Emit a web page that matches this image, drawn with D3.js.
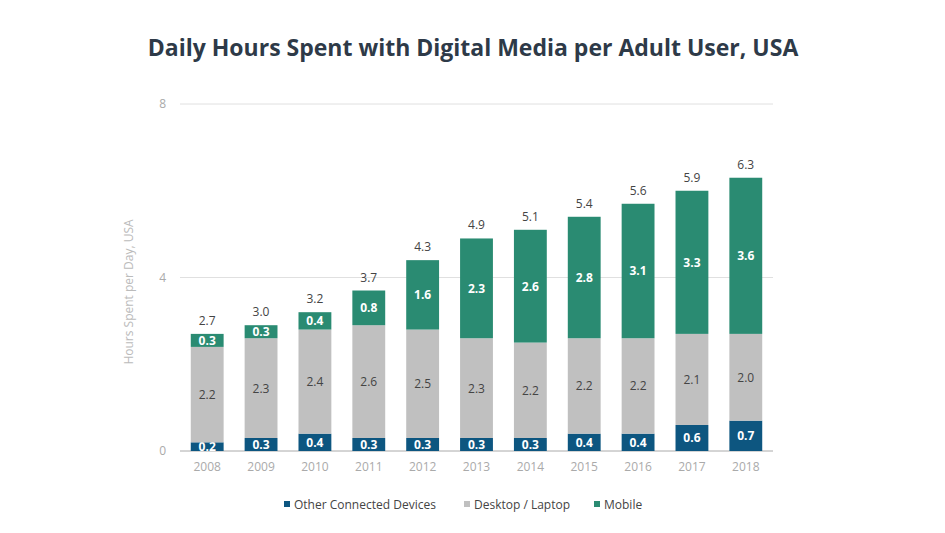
<!DOCTYPE html>
<html><head><meta charset="utf-8">
<script src="https://cdn.jsdelivr.net/npm/d3@7"></script>
<style>body{margin:0;background:#fff;font-family:"Open Sans",Arial,sans-serif}</style>
</head><body><div id="container"></div>
<script>
var years = ["2008","2009","2010","2011","2012","2013","2014","2015","2016","2017","2018"];
var other = [0.2,0.3,0.4,0.3,0.3,0.3,0.3,0.4,0.4,0.6,0.7];
var desktop = [2.2,2.3,2.4,2.6,2.5,2.3,2.2,2.2,2.2,2.1,2.0];
var mobile = [0.3,0.3,0.4,0.8,1.6,2.3,2.6,2.8,3.1,3.3,3.6];
var totals = ["2.7","3.0","3.2","3.7","4.3","4.9","5.1","5.4","5.6","5.9","6.3"];
var yTicks = [0,4,8];
var seriesNames = ["Other Connected Devices","Desktop / Laptop","Mobile"];
var colours = ["#0d5680","#c0c0c0","#2a8b72"];
var labelColours = ["#fff","#444","#fff"];

var width = 945, height = 533;
var svg = d3.select("#container").append("svg").attr("width", width).attr("height", height);

svg.append("text").attr("x", 473).attr("y", 56).attr("text-anchor","middle")
	.style("font-size","23px").style("font-weight","bold").style("fill","#2e3a48")
	.text("Daily Hours Spent with Digital Media per Adult User, USA");

var x = d3.scaleBand().domain(years).range([180, 773]).paddingInner(0.39).paddingOuter(0.2);
var y = d3.scaleLinear().domain([0, 8]).range([451, 104]);

svg.selectAll(".grid").data(yTicks).enter().append("line")
	.attr("x1", 180).attr("x2", 773).attr("y1", d => y(d)).attr("y2", d => y(d))
	.style("stroke", d => d === 0 ? "#aaa" : "#e0e0e0");
svg.selectAll(".ytick").data(yTicks).enter().append("text")
	.attr("x", 166).attr("y", d => y(d) + 4).attr("text-anchor","end")
	.style("font-size","12px").style("fill","#aaa").text(d => d);
svg.append("text").attr("transform","translate(133,292) rotate(-90)").attr("text-anchor","middle")
	.style("font-size","12px").style("fill","#bbb").text("Hours Spent per Day, USA");

svg.selectAll(".xtick").data(years).enter().append("text")
	.attr("x", d => x(d) + x.bandwidth()/2).attr("y", 471).attr("text-anchor","middle")
	.style("font-size","12px").style("fill","#aaa").text(d => d);

var data = [other, desktop, mobile];
years.forEach(function(yr, i){
	var base = 0;
	data.forEach(function(s, k){
		var v = s[i];
		svg.append("rect").attr("x", x(yr)).attr("width", x.bandwidth())
			.attr("y", y(base + v)).attr("height", y(base) - y(base + v)).style("fill", colours[k]);
		svg.append("text").attr("x", x(yr) + x.bandwidth()/2).attr("y", (y(base) + y(base+v))/2 + 4.5)
			.attr("text-anchor","middle").style("font-size","12px")
			.style("font-weight", k === 1 ? "normal" : "bold").style("fill", labelColours[k])
			.text(v.toFixed(1));
		base += v;
	});
	svg.append("text").attr("x", x(yr) + x.bandwidth()/2).attr("y", y(base) - 9)
		.attr("text-anchor","middle").style("font-size","12px").style("fill","#444").text(totals[i]);
});

var legX = [287, 467, 597];
seriesNames.forEach(function(n, k){
	svg.append("rect").attr("x", legX[k]-3).attr("y", 501).attr("width", 6).attr("height", 6).style("fill", colours[k]);
	svg.append("text").attr("x", legX[k] + 7).attr("y", 509).style("font-size","12px").style("fill","#444").text(n);
});
</script></body></html>
